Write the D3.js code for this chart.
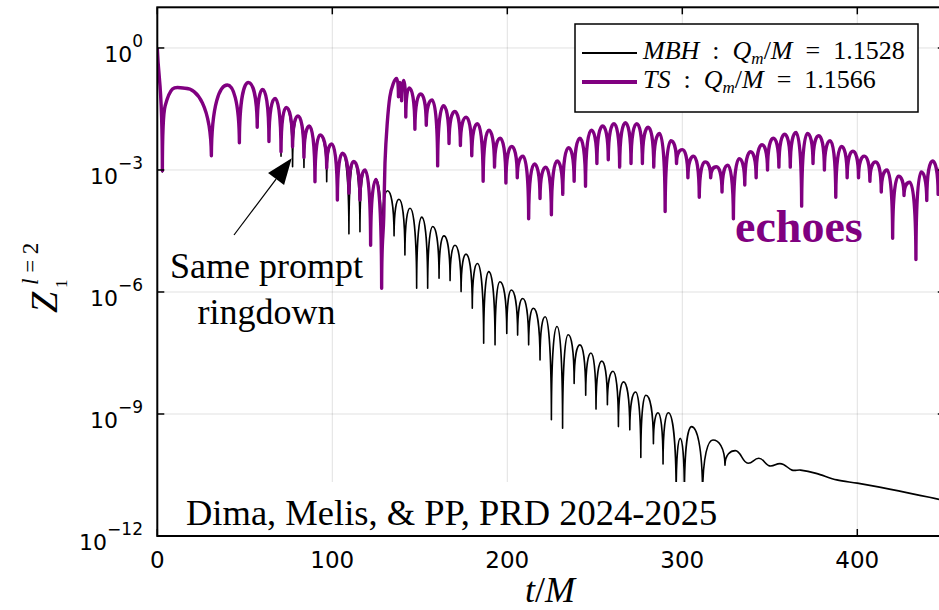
<!DOCTYPE html>
<html>
<head>
<meta charset="utf-8">
<script src="https://cdn.jsdelivr.net/npm/d3@7"></script>
<style>
  body { margin: 0; background: #fff; }
  svg { display: block; }
</style>
</head>
<body>
<svg id="chart" width="939" height="610"></svg>
<script>
// t/M values and log10 of the amplitude (alternating peaks and dips)
const mbhT = [0, 2.9, 4.5, 15.8, 30.9, 40, 46.9, 52, 57.1, 60.2, 63.8, 67.3, 70.7, 73.7, 77.3, 80.4, 83.8, 86.9, 90.1, 93.0, 96.8, 99.7,
  102.9, 105.8, 109.5, 112.3, 115.8, 118.7, 121.9, 125, 128.2,
  131.5, 135.3, 138.1, 141.5, 144.4, 148.2, 151.1, 154.5, 157.4, 161, 163.8, 167.3, 170.1, 173.6, 176.4, 180, 182.9, 186.5,
  189.4, 193, 195.8, 199.7, 202.3, 205.9, 208.8, 212.2, 214.9, 218.7, 221.6, 225.2, 228.4, 231.6, 234.8, 238.2, 241.5, 244.8,
  247.8, 250.7, 254, 257.2, 260.4, 263.5, 266.4, 270, 273.3, 276.3, 279.2, 283.5, 286.1, 289, 292, 296.5, 298.8, 301.2, 305.3,
  311.6, 317.5, 324.4, 330.3, 337.6, 343.7, 350.5, 355.8, 362.7, 367.6, 376.5, 388.3, 400, 423.6, 450];
const mbhLog = [0, -3.05, -1.42, -0.99, -2.65, -0.91, -2.33, -0.85, -1.95, -1.02, -2.3, -1.24, -2.66, -1.46, -2.92, -1.67, -2.94, -1.92, -3.29, -2.14, -3.29, -2.36,
  -3.74, -2.59, -4.57, -2.79, -4.52, -3.0, -4.85, -3.23, -4.9,
  -3.51, -4.62, -3.72, -5.09, -3.94, -5.91, -4.16, -5.91, -4.39, -5.66, -4.62, -5.72, -4.85, -5.99, -5.07, -6.4, -5.3, -7.26,
  -5.5, -7.3, -5.75, -7.02, -5.95, -7.06, -6.16, -7.3, -6.4, -7.67, -6.61, -9.14, -6.85, -9.35, -7.05, -8.25, -7.3, -8.54,
  -7.5, -8.88, -7.7, -8.77, -7.95, -9.31, -8.21, -9.39, -8.46, -10.07, -8.54, -9.73, -8.97, -10.23, -8.97, -11.0, -9.6, -11.0, -9.31,
  -11.0, -9.64, -10.26, -9.9, -10.21, -10.09, -10.28, -10.22, -10.38, -10.38, -10.46, -10.62, -10.7, -10.89, -11.13];

const tsT = [0, 2.9, 4.5, 15.8, 30.9, 40, 46.9, 52, 57.1, 60.2, 63.8, 67.3, 70.7, 73.7, 77.3, 80.4, 83.8, 86.9, 90.1, 93.0, 96.8, 99.7,
  102.9, 105.8, 109.5, 112.3, 115.8, 118.7, 121.9, 125, 128.2, 129.4, 130.1, 131.4, 132.9, 134.9,
  136.8, 137.8, 138.6, 139.6, 140.8, 142.0, 144.0, 147.2, 150.5, 153.7, 157.0, 160.2, 163.5, 166.7, 170.0, 173.2, 176.5, 179.7,
  183.0, 186.2, 189.5, 192.7, 196.0, 199.2, 202.5, 205.7, 209.0, 212.2, 215.5, 218.7, 222.0, 225.2, 228.5, 231.7, 235.0, 238.2,
  241.5, 244.7, 248.0, 251.2, 254.5, 257.7, 261.0, 264.2, 267.5, 270.7, 274.0, 277.2, 280.5, 283.7, 287.0, 290.2, 293.5, 296.7,
  300.0, 303.2, 306.5, 309.7, 313.0, 316.2, 319.5, 322.7, 326.0, 329.2, 332.5, 335.7, 339.0, 342.2, 345.5, 348.7, 352.0, 355.2,
  358.5, 361.7, 365.0, 368.2, 371.5, 374.7, 378.0, 381.2, 384.5, 387.7, 391.0, 394.2, 397.5, 400.7, 404.0, 407.2, 410.5, 413.7,
  417.0, 420.2, 423.5, 426.7, 430.0, 433.5, 436.5, 439.7, 443.0, 446.2, 449.5];
const tsLog = [0, -3.02, -1.42, -0.99, -2.65, -0.91, -2.33, -0.85, -1.95, -1.02, -2.3, -1.24, -2.55, -1.46, -2.43, -1.67, -2.69, -1.92, -3.29, -2.14, -2.95, -2.36,
  -3.74, -2.59, -3.57, -2.79, -3.74, -3.0, -4.85, -3.23, -5.91, -4.15, -2.83, -1.85, -1.2, -0.87,
  -0.75, -1.2, -0.85, -1.3, -0.8, -1.7, -0.98, -2.0, -1.13, -1.9, -1.28, -2.9, -1.42, -2.35, -1.56, -2.4, -1.7, -2.65,
  -1.86, -3.28, -2.02, -2.93, -2.22, -3.32, -2.42, -3.19, -2.66, -4.2, -2.85, -3.7, -2.93, -4.1, -2.78, -3.6, -2.45, -3.28,
  -2.22, -3.4, -2.02, -2.84, -1.92, -2.75, -1.86, -2.93, -1.84, -2.84, -1.86, -2.84, -1.95, -2.93, -2.1, -4.02, -2.28, -2.84,
  -2.5, -3.19, -2.66, -3.67, -2.8, -3.19, -2.92, -3.54, -2.88, -4.2, -2.72, -3.37, -2.55, -3.19, -2.38, -3.0, -2.22, -2.93,
  -2.12, -2.93, -2.08, -3.89, -2.1, -2.84, -2.16, -3.0, -2.28, -3.67, -2.42, -3.19, -2.54, -3.19, -2.66, -3.28, -2.8, -3.54,
  -3.0, -4.68, -3.15, -3.63, -3.3, -5.2, -3.05, -3.75, -2.78, -3.6, -2.6];

const xTicks = [0, 100, 200, 300, 400];
const yExponents = [-12, -9, -6, -3, 0];
const legendLabels = [
  { name: "MBH", q: "1.1528" },
  { name: "TS", q: "1.1566" }
];

const svg = d3.select("#chart");
const box = { left: 157.3, right: 944.8, top: 7.3, bottom: 536 };
const serif = "'Liberation Serif', 'Times New Roman', serif";
const sans = "'DejaVu Sans', sans-serif";
const purple = "#800080";

const x = d3.scaleLinear().domain([0, 450]).range([box.left, box.right]);
const y = d3.scaleLog().domain([1e-12, 10]).range([box.bottom, box.top]);

// grid
svg.append("g").selectAll("line").data(xTicks).join("line")
  .attr("x1", d => x(d)).attr("x2", d => x(d)).attr("y1", box.top).attr("y2", box.bottom)
  .attr("stroke", "#000").attr("stroke-opacity", 0.12).attr("stroke-width", 1);
svg.append("g").selectAll("line").data(yExponents).join("line")
  .attr("x1", box.left).attr("x2", box.right).attr("y1", d => y(10 ** d)).attr("y2", d => y(10 ** d))
  .attr("stroke", "#000").attr("stroke-opacity", 0.12).attr("stroke-width", 1);

// path with sharp cusps at the zero crossings and rounded arches
function cuspPath(pts) {
  const n = pts.length;
  const kind = pts.map((q, i) => {
    if (i === 0 || i === n - 1) return "end";
    const a = pts[i - 1], b = pts[i + 1];
    if (q[1] > a[1] && q[1] > b[1]) return Math.min(q[1] - a[1], q[1] - b[1]) > 10 ? "cusp" : "flat";
    if (q[1] < a[1] && q[1] < b[1]) return "flat";
    return "smooth";
  });
  const slope = i => (pts[i + 1][1] - pts[i - 1][1]) / (pts[i + 1][0] - pts[i - 1][0]);
  const p = d3.path();
  p.moveTo(pts[0][0], pts[0][1]);
  for (let i = 0; i < n - 1; i++) {
    const [x0, y0] = pts[i], [x1, y1] = pts[i + 1];
    const dx = x1 - x0, dy = y1 - y0;
    let c1, c2;
    if (kind[i] === "cusp") c1 = [x0 + 0.02 * dx, y0 + 0.75 * dy];
    else if (kind[i] === "flat") c1 = [x0 + 0.45 * dx, y0];
    else if (kind[i] === "smooth") c1 = [x0 + dx / 3, y0 + slope(i) * dx / 3];
    else c1 = [x0 + dx / 3, y0 + dy / 3];
    if (kind[i + 1] === "cusp") c2 = [x1 - 0.02 * dx, y1 - 0.75 * dy];
    else if (kind[i + 1] === "flat") c2 = [x1 - 0.45 * dx, y1];
    else if (kind[i + 1] === "smooth") c2 = [x1 - dx / 3, y1 - slope(i + 1) * dx / 3];
    else c2 = [x1 - dx / 3, y1 - dy / 3];
    p.bezierCurveTo(c1[0], c1[1], c2[0], c2[1], x1, y1);
  }
  return p.toString();
}

svg.append("clipPath").attr("id", "plotClip").append("rect")
  .attr("x", box.left).attr("y", box.top).attr("width", box.right - box.left).attr("height", box.bottom - box.top);

const plot = svg.append("g").attr("clip-path", "url(#plotClip)");
plot.append("path")
  .attr("d", cuspPath(mbhT.map((t, i) => [x(t), y(10 ** mbhLog[i])])))
  .attr("fill", "none").attr("stroke", "#000").attr("stroke-width", 1.6).attr("stroke-linejoin", "round");
plot.append("path")
  .attr("d", cuspPath(tsT.map((t, i) => [x(t), y(10 ** tsLog[i])])))
  .attr("fill", "none").attr("stroke", purple).attr("stroke-width", 3.4).attr("stroke-linejoin", "round");

// frame and inward ticks
svg.append("rect").attr("x", box.left).attr("y", box.top).attr("width", box.right - box.left).attr("height", box.bottom - box.top)
  .attr("fill", "none").attr("stroke", "#000").attr("stroke-width", 2);
const tickLen = 7;
const ticks = svg.append("g").attr("stroke", "#000").attr("stroke-width", 1.5);
xTicks.forEach(d => {
  ticks.append("line").attr("x1", x(d)).attr("x2", x(d)).attr("y1", box.bottom).attr("y2", box.bottom - tickLen);
  ticks.append("line").attr("x1", x(d)).attr("x2", x(d)).attr("y1", box.top).attr("y2", box.top + tickLen);
});
yExponents.forEach(d => {
  ticks.append("line").attr("x1", box.left).attr("x2", box.left + tickLen).attr("y1", y(10 ** d)).attr("y2", y(10 ** d));
  ticks.append("line").attr("x1", box.right).attr("x2", box.right - tickLen).attr("y1", y(10 ** d)).attr("y2", y(10 ** d));
});

// tick labels
svg.append("g").selectAll("text").data(xTicks).join("text")
  .attr("x", d => x(d)).attr("y", 568)
  .attr("text-anchor", "middle").attr("font-family", sans).attr("font-size", 23)
  .text(d => d);
const yl = svg.append("g").selectAll("text").data(yExponents).join("text")
  .attr("x", 143).attr("y", d => y(10 ** d) + 14)
  .attr("text-anchor", "end").attr("font-family", sans).attr("font-size", 22);
yl.append("tspan").text("10");
yl.append("tspan").attr("dy", -15).attr("font-size", 17).text(d => d === 0 ? "0" : "\u2212" + Math.abs(d));

// axis titles
const xt = svg.append("text").attr("x", 550).attr("y", 602).attr("text-anchor", "middle")
  .attr("font-family", serif).attr("font-size", 36).attr("font-style", "italic");
xt.append("tspan").text("t");
xt.append("tspan").attr("font-style", "normal").text("/");
xt.append("tspan").text("M");

const yt = svg.append("g").attr("transform", "translate(57,313) rotate(-90)")
  .attr("font-family", serif).attr("font-style", "italic");
yt.append("text").attr("x", 0).attr("y", 0).attr("font-size", 38).text("Z");
yt.append("text").attr("x", 28).attr("y", -19).attr("font-size", 23)
  .html("l<tspan font-style='normal'> = 2</tspan>");
yt.append("text").attr("x", 25).attr("y", 10).attr("font-size", 17).attr("font-style", "normal").text("1");

// legend
const lg = svg.append("g");
lg.append("rect").attr("x", 575).attr("y", 24).attr("width", 343).attr("height", 88)
  .attr("fill", "#fff").attr("stroke", "#000").attr("stroke-width", 1.5);
const legendY = [53, 82];
const legendColor = ["#000", purple];
const legendWidth = [2.2, 4];
legendLabels.forEach((d, i) => {
  lg.append("line").attr("x1", 582).attr("x2", 637).attr("y1", legendY[i]).attr("y2", legendY[i])
    .attr("stroke", legendColor[i]).attr("stroke-width", legendWidth[i]);
  const t = lg.append("text").attr("x", 643).attr("y", legendY[i] + 5.5)
    .attr("font-family", serif).attr("font-size", 26);
  t.append("tspan").attr("font-style", "italic").text(d.name);
  t.append("tspan").text("\u2002:\u2002");
  t.append("tspan").attr("font-style", "italic").text("Q");
  t.append("tspan").attr("font-style", "italic").attr("font-size", 17).attr("dy", 5).text("m");
  t.append("tspan").attr("dy", -5).text("/");
  t.append("tspan").attr("font-style", "italic").text("M");
  t.append("tspan").text("\u2002=\u2002" + d.q);
});

// annotations
svg.append("rect").attr("x", 180).attr("y", 482).attr("width", 545).attr("height", 53).attr("fill", "#fff");
svg.append("text").attr("x", 186).attr("y", 525).attr("font-family", serif).attr("font-size", 36.5)
  .text("Dima, Melis, & PP, PRD 2024-2025");

svg.append("text").attr("x", 266.5).attr("y", 278).attr("text-anchor", "middle")
  .attr("font-family", serif).attr("font-size", 36).text("Same prompt");
svg.append("text").attr("x", 266.5).attr("y", 324).attr("text-anchor", "middle")
  .attr("font-family", serif).attr("font-size", 36).text("ringdown");

svg.append("text").attr("x", 735).attr("y", 242).attr("font-family", serif)
  .attr("font-size", 46).attr("font-weight", "bold").attr("fill", purple).text("echoes");

// arrow
const tail = [234, 235], tip = [291.7, 158.3];
const ux = (tip[0] - tail[0]) / Math.hypot(tip[0] - tail[0], tip[1] - tail[1]);
const uy = (tip[1] - tail[1]) / Math.hypot(tip[0] - tail[0], tip[1] - tail[1]);
const headLen = 26, headHalf = 10;
const bx = tip[0] - headLen * ux, by = tip[1] - headLen * uy;
svg.append("line").attr("x1", tail[0]).attr("y1", tail[1]).attr("x2", bx).attr("y2", by)
  .attr("stroke", "#000").attr("stroke-width", 1.2);
svg.append("path")
  .attr("d", `M${tip[0]},${tip[1]}L${bx - headHalf * uy},${by + headHalf * ux}L${bx + headHalf * uy},${by - headHalf * ux}Z`)
  .attr("fill", "#000");
</script>
</body>
</html>
